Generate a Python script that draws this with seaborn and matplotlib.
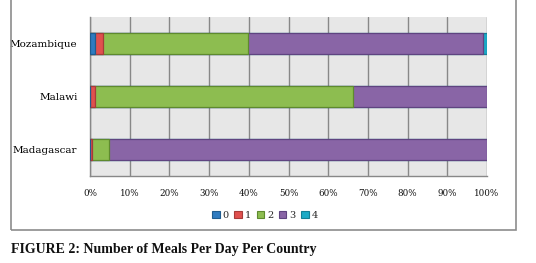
import numpy as np
import pandas as pd
import matplotlib
matplotlib.use("Agg")
import matplotlib.pyplot as plt
from matplotlib.patches import Patch, Rectangle
import seaborn as sns

# datos (porcentaje de hogares)
countries = ["Mozambique", "Malawi", "Madagascar"]
meals = ["0", "1", "2", "3", "4"]
meals_0 = [1.2, 0.0, 0.0]
meals_1 = [2.0, 1.2, 0.4]
meals_2 = [36.5, 65.1, 4.3]
meals_3 = [59.3, 33.7, 95.3]
meals_4 = [1.0, 0.0, 0.0]
x_ticks = [0, 10, 20, 30, 40, 50, 60, 70, 80, 90, 100]

colores = ["#2E7BC0", "#E0504E", "#8DBD50", "#8965A6", "#1AAAC6"]
bordes = ["#1F5C8F", "#A83B39", "#5E8A2E", "#5F4480", "#127F95"]

sns.set_theme(style="white")
plt.rcParams["font.family"] = ["DejaVu Serif"]

df = pd.DataFrame({"country": countries, "0": meals_0, "1": meals_1,
                   "2": meals_2, "3": meals_3, "4": meals_4})
cum = df[meals].cumsum(axis=1)

fig = plt.figure(figsize=(5.36, 2.63), dpi=100)
ax = fig.add_axes([90 / 536, 1 - 176 / 263, 397 / 536, 159 / 263])
ax.set_facecolor("#E7E7E7")

# barras apiladas: se dibuja la suma acumulada de mayor a menor
for i in reversed(range(len(meals))):
    m = meals[i]
    sns.barplot(x=cum[m], y=df["country"], orient="h", color=colores[i],
                width=0.4, edgecolor=bordes[i], linewidth=0.9, saturation=1,
                ax=ax, zorder=3)

ax.set_xlim(0, 100)
ax.set_ylim(2.5, -0.5)
ax.set_xticks(x_ticks)
ax.set_xticklabels([f"{t}%" for t in x_ticks], fontsize=6.3, color="#111111")
ax.set_yticks(range(3))
ax.set_yticklabels(countries, fontsize=7.5, color="#000000")
ax.set_yticks([-0.5, 0.5, 1.5, 2.5], minor=True)
ax.set_xlabel("")
ax.set_ylabel("")
ax.grid(axis="x", color="#888888", linewidth=1, zorder=0)
ax.set_axisbelow(True)
for s in ["top", "right"]:
    ax.spines[s].set_visible(False)
for s in ["left", "bottom"]:
    ax.spines[s].set_color("#888888")
    ax.spines[s].set_linewidth(1)
ax.tick_params(axis="y", which="major", length=0, pad=9)
ax.tick_params(axis="y", which="minor", length=4, color="#888888", direction="out")
ax.tick_params(axis="x", which="major", length=4, color="#888888", direction="out", pad=5)

handles = [Patch(facecolor=colores[i], edgecolor=bordes[i], linewidth=0.8) for i in range(5)]
fig.legend(handles, meals, loc="center", bbox_to_anchor=(265 / 536, 1 - 215 / 263),
           ncol=5, frameon=False, fontsize=7, handlelength=0.75, handleheight=0.75,
           handletextpad=0.3, columnspacing=0.6)

# marco del grafico
fig.patches.append(Rectangle((11 / 536, 1 - 230 / 263), 505 / 536, 0.2 + 230 / 263,
                             transform=fig.transFigure, fill=False,
                             edgecolor="#8C8C8C", linewidth=1.2))

fig.text(11 / 536, 1 - 250 / 263, "FIGURE 2: Number of Meals Per Day Per Country",
         fontsize=10, fontweight="bold", family=["Liberation Serif"],
         va="center", ha="left", color="#111111")

fig.savefig("out.png", dpi=100)
